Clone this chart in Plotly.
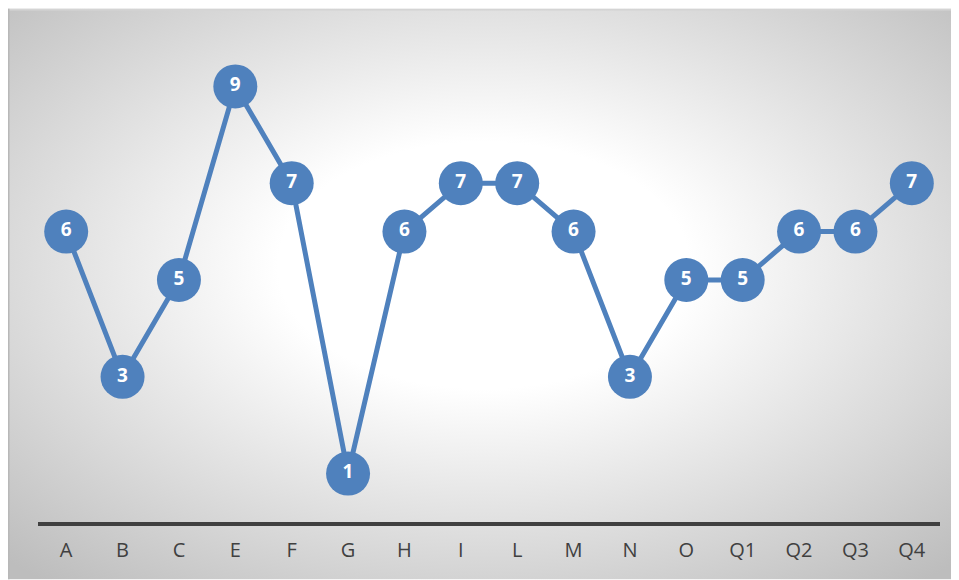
import base64
import plotly.graph_objects as go

categories = ["A", "B", "C", "E", "F", "G", "H", "I", "L", "M", "N", "O", "Q1", "Q2", "Q3", "Q4"]
values = [6, 3, 5, 9, 7, 1, 6, 7, 7, 6, 3, 5, 5, 6, 6, 7]

W, H = 951, 572
ml, mr, mt, mb = 30, 19, 29.5, 57.5
pw, ph = W - ml - mr, H - mt - mb

# background card with radial gradient (as SVG image)
card_svg = f"""<svg xmlns='http://www.w3.org/2000/svg' width='{W}' height='{H}' viewBox='0 0 {W} {H}' preserveAspectRatio='none'>
<defs><radialGradient id='g' cx='50%' cy='45%' r='72%' fx='50%' fy='45%'>
<stop offset='0' stop-color='#ffffff'/><stop offset='0.3' stop-color='#ffffff'/>
<stop offset='1' stop-color='#bdbdbd'/></radialGradient></defs>
<rect x='0' y='0' width='{W}' height='{H}' fill='url(#g)'/>
<rect x='0' y='0' width='{W}' height='2' fill='#d4d4d4'/>
<rect x='0' y='0' width='1.5' height='{H}' fill='#b8b8b8'/>
</svg>"""
src = "data:image/svg+xml;base64," + base64.b64encode(card_svg.encode()).decode()

img = dict(
    source=src, xref="paper", yref="paper",
    x=-ml / pw, y=1 + mt / ph,
    sizex=W / pw, sizey=H / ph,
    xanchor="left", yanchor="top", sizing="stretch", layer="below",
)

fig = go.Figure()
fig.add_trace(go.Scatter(
    x=categories, y=values, mode="lines+markers+text",
    line=dict(color="#4F81BD", width=5),
    marker=dict(size=44, color="#4F81BD", line=dict(width=0)),
    text=[str(v) for v in values], textposition="middle center",
    textfont=dict(color="white", size=19, family="Open Sans", weight="bold"),
    cliponaxis=False, hoverinfo="skip",
))

fig.update_layout(
    width=W, height=H,
    margin=dict(l=ml, r=mr, t=mt, b=mb),
    paper_bgcolor="white", plot_bgcolor="rgba(0,0,0,0)",
    showlegend=False,
    images=[img],
    xaxis=dict(
        type="category", range=[-0.5, len(categories) - 0.5],
        showgrid=False, zeroline=False, showline=True, linecolor="#404040", linewidth=3.5,
        ticks="", tickfont=dict(family="Open Sans", size=20, color="#404040"),
        ticklabelstandoff=7, fixedrange=True,
    ),
    yaxis=dict(range=[0, 10], visible=False, fixedrange=True),
)

fig.write_html("out.html")
